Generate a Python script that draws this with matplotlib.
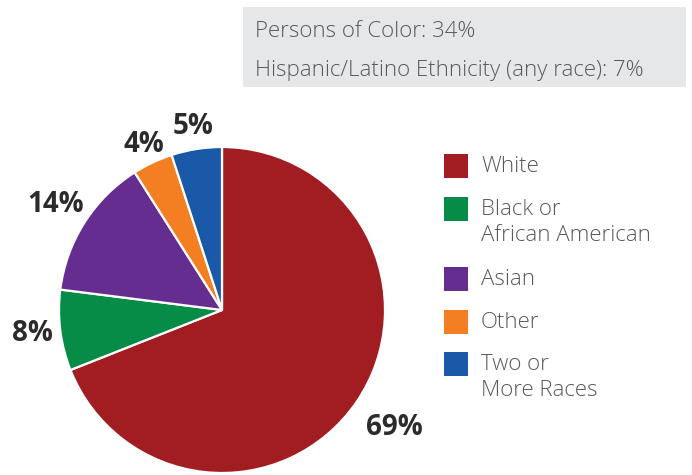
import matplotlib
matplotlib.use("Agg")
import matplotlib.pyplot as plt
from matplotlib.patches import Rectangle

# data
groups = ["White", "Black or\nAfrican American", "Asian", "Other", "Two or\nMore Races"]
shares = [69, 8, 14, 4, 5]
colors = ["#a21d22", "#078c47", "#662d91", "#f37f22", "#1a59a7"]
summary_lines = ["Persons of Color: 34%", "Hispanic/Latino Ethnicity (any race): 7%"]

plt.rcParams['font.family'] = ['Open Sans', 'DejaVu Sans']

W, H = 692, 475
fig = plt.figure(figsize=(W / 100, H / 100), dpi=100)

# pie axes, placed in pixels: centre (222, 310), radius 163
cx, cy, r = 222, 310, 163
lim = 1.4
side = 2 * lim * r
ax = fig.add_axes([(cx - side / 2) / W, (H - cy - side / 2) / H, side / W, side / H])
pd = 1.2
wedges, texts, autotexts = ax.pie(
    shares, colors=colors, startangle=90, counterclock=False, radius=1,
    autopct=lambda p: f"{p:.0f}%", pctdistance=pd,
    wedgeprops=dict(edgecolor="white", linewidth=1.6))
# label distance from centre, per wedge
label_dist = [1.28, 1.17, 1.21, 1.12, 1.14]
for t, d in zip(autotexts, label_dist):
    x, y = t.get_position()
    t.set_position((x / pd * d, y / pd * d))
    t.set_fontsize(20)
    t.set_fontweight("bold")
    t.set_color("#2b2b2b")
ax.set_xlim(-lim, lim)
ax.set_ylim(-lim, lim)
ax.set_aspect("equal")
ax.axis("off")

# grey summary box
fig.patches.append(Rectangle((243 / W, 1 - 87 / H), (686 - 243) / W, 80 / H,
                             transform=fig.transFigure, facecolor="#e6e7e8",
                             edgecolor="none", zorder=0))
for i, line in enumerate(summary_lines):
    fig.text(255 / W, 1 - (37 + 39 * i) / H, line, fontsize=16, fontweight="light",
             color="#58595b", va="baseline", ha="left")

# legend
sq_tops = [154, 197, 267, 310, 352]
for top, name, col in zip(sq_tops, groups, colors):
    fig.patches.append(Rectangle((444 / W, 1 - (top + 24) / H), 24 / W, 24 / H,
                                 transform=fig.transFigure, facecolor=col,
                                 edgecolor="none"))
    fig.text(481 / W, 1 - (top + 2) / H, name, fontsize=16, fontweight="light",
             color="#58595b", va="top", ha="left", linespacing=1.32)

fig.savefig("out.png", dpi=100)
